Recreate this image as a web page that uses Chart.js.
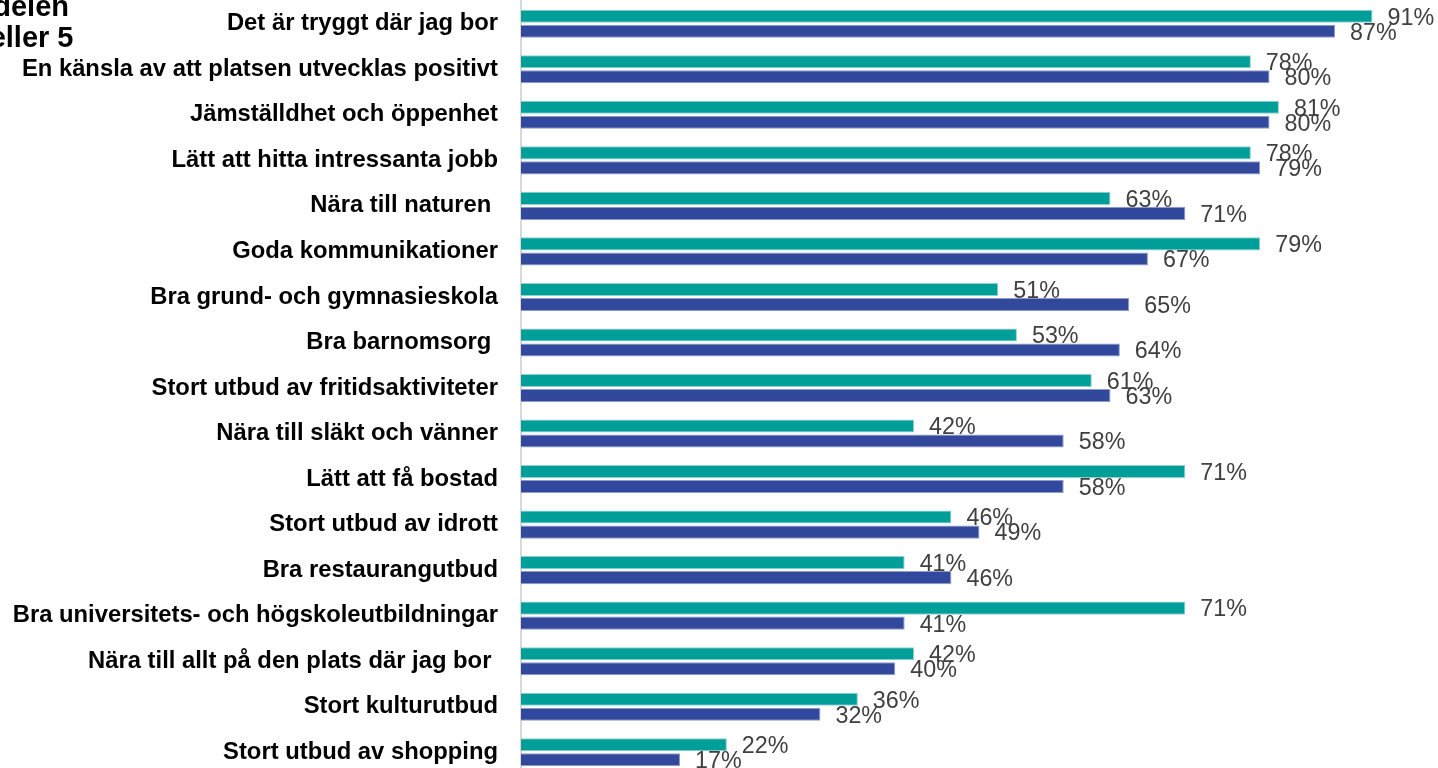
<!DOCTYPE html>
<html lang="sv">
<head>
<meta charset="utf-8">
<title>Viktiga faktorer för boendeorten</title>
<script src="https://cdn.jsdelivr.net/npm/chart.js@4.4.1/dist/chart.umd.min.js"></script>
<style>
  html, body {
    margin: 0;
    padding: 0;
    background: #ffffff;
    overflow: hidden;
  }
  #graphContainer {
    position: absolute;
    left: 0;
    top: 0;
    width: 1438px;
    height: 775px;
  }
</style>
</head>
<body>
<div id="graphContainer"><canvas id="chart"></canvas></div>
<script>
const categories = [
  "Det är tryggt där jag bor",
  "En känsla av att platsen utvecklas positivt",
  "Jämställdhet och öppenhet",
  "Lätt att hitta intressanta jobb",
  "Nära till naturen ",
  "Goda kommunikationer",
  "Bra grund- och gymnasieskola",
  "Bra barnomsorg ",
  "Stort utbud av fritidsaktiviteter",
  "Nära till släkt och vänner",
  "Lätt att få bostad",
  "Stort utbud av idrott",
  "Bra restaurangutbud",
  "Bra universitets- och högskoleutbildningar",
  "Nära till allt på den plats där jag bor ",
  "Stort kulturutbud",
  "Stort utbud av shopping",
];

// andel (%) som svarat 4 eller 5
const groupA = [91, 78, 81, 78, 63, 79, 51, 53, 61, 42, 71, 46, 41, 71, 42, 36, 22];
const groupB = [87, 80, 80, 79, 71, 67, 65, 64, 63, 58, 58, 49, 46, 41, 40, 32, 17];

const titleLines = ["Andelen", "4 eller 5"];

const fontFamily = "'Liberation Sans', Arial, sans-serif";

// value labels to the right of every bar
const valueLabels = {
  id: "valueLabels",
  afterDatasetsDraw: (chart) => {
    const ctx = chart.ctx;
    const size = 23.3;
    ctx.save();
    ctx.font = `${size}px ${fontFamily}`;
    ctx.fillStyle = "#404040";
    ctx.textAlign = "left";
    ctx.textBaseline = "alphabetic";
    chart.data.datasets.forEach((ds, i) => {
      chart.getDatasetMeta(i).data.forEach((bar, j) => {
        ctx.fillText(ds.data[j] + "%", bar.x + 15, bar.y + size * 0.358);
      });
    });
    ctx.restore();
  },
};

// heading in the upper left corner (runs off the left edge)
const cornerTitle = {
  id: "cornerTitle",
  afterDraw: (chart) => {
    const ctx = chart.ctx;
    ctx.save();
    ctx.font = `bold 29px ${fontFamily}`;
    ctx.fillStyle = "#000000";
    ctx.textAlign = "right";
    ctx.textBaseline = "alphabetic";
    ctx.fillText(titleLines[0], 69, 16);
    ctx.fillText(titleLines[1], 73.5, 47);
    ctx.restore();
  },
};

new Chart(document.getElementById("chart").getContext("2d"), {
  type: "bar",
  data: {
    labels: categories,
    datasets: [
      {
        label: "Grupp A",
        data: groupA,
        backgroundColor: "#009e99",
        borderColor: "#8fd0cd",
        borderWidth: 1,
        borderSkipped: "start",
        categoryPercentage: 0.66,
        barPercentage: 0.87,
      },
      {
        label: "Grupp B",
        data: groupB,
        backgroundColor: "#31489d",
        borderColor: "#8e9bca",
        borderWidth: 1,
        borderSkipped: "start",
        categoryPercentage: 0.66,
        barPercentage: 0.87,
      },
    ],
  },
  options: {
    indexAxis: "y",
    responsive: true,
    maintainAspectRatio: false,
    animation: false,
    layout: {
      padding: { top: 1, right: 0, bottom: 0, left: 0 },
    },
    scales: {
      x: {
        display: false,
        min: 0,
        max: 98,
      },
      y: {
        afterFit: (scale) => {
          scale.width = 521; //fixed label column so the bars start at the same place
          // tick padding would otherwise push the plot area down from the top
          scale.paddingTop = 0;
          scale.paddingBottom = 0;
        },
        grid: {
          display: false,
          drawTicks: false,
        },
        border: {
          display: true,
          color: "#d9d9d9",
          width: 2,
        },
        ticks: {
          color: "#000000",
          padding: 23,
          autoSkip: false,
          font: {
            family: fontFamily,
            size: 23.8,
            weight: "bold",
          },
        },
      },
    },
    plugins: {
      legend: { display: false },
      tooltip: { enabled: false },
    },
  },
  plugins: [valueLabels, cornerTitle],
});
</script>
</body>
</html>
